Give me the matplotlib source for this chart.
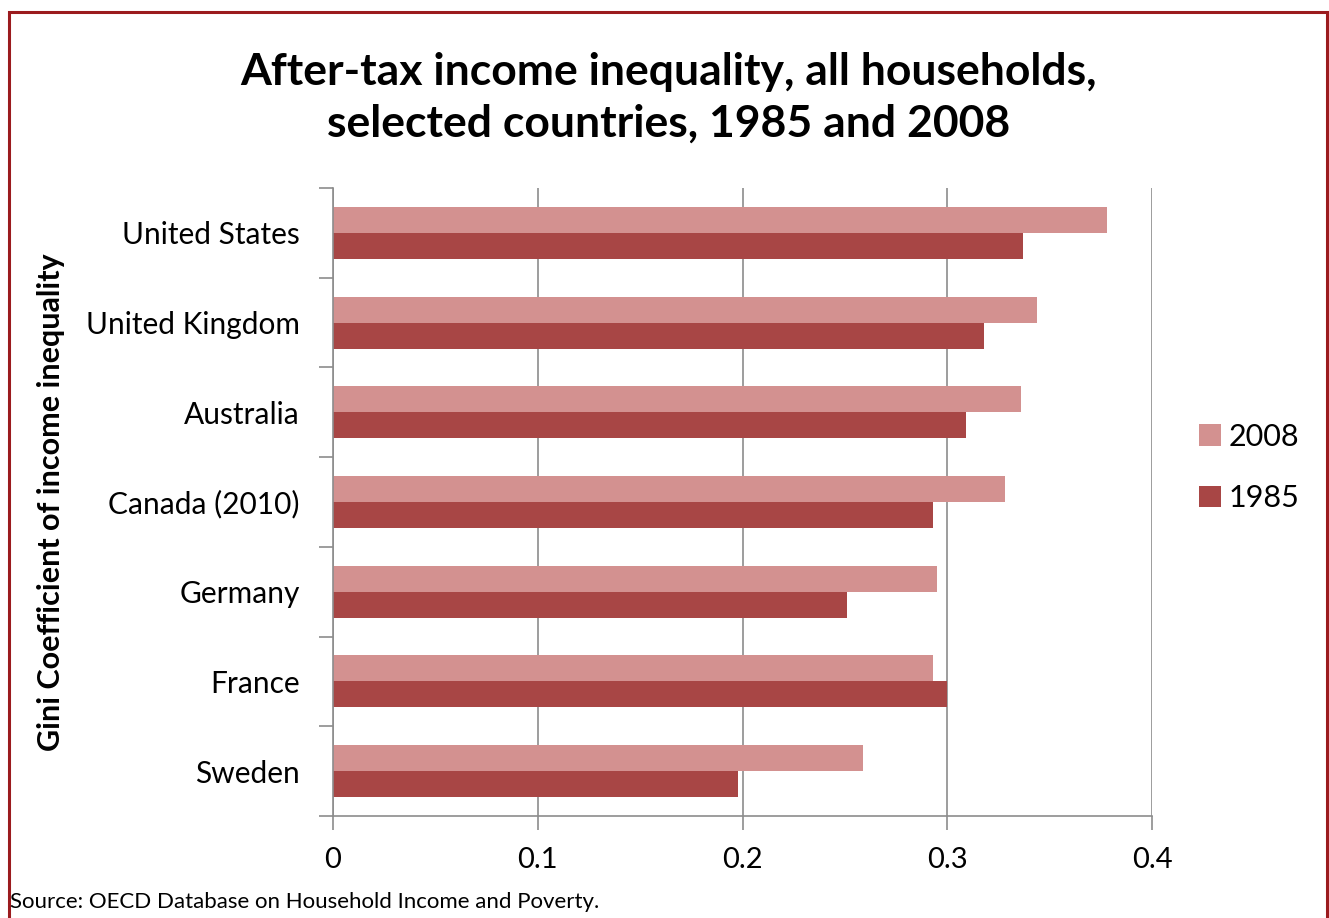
#!/usr/bin/env python3
"""After-tax income inequality, Gini 1985 vs 2008."""

import matplotlib

matplotlib.use("Agg")
import matplotlib.pyplot as plt
import numpy as np
from matplotlib.patches import Rectangle

countries = ["United States", "United Kingdom", "Australia", "Canada (2010)",
             "Germany", "France", "Sweden"]
gini_2008 = [0.378, 0.344, 0.336, 0.328, 0.295, 0.293, 0.259]
gini_1985 = [0.337, 0.318, 0.309, 0.293, 0.251, 0.300, 0.198]
xticks = [0, 0.1, 0.2, 0.3, 0.4]

C_2008 = "#d39190"
C_1985 = "#a84645"
FONT = ["Lato", "DejaVu Sans"]

plt.rcParams["font.family"] = FONT

fig = plt.figure(figsize=(13.29, 9.18), dpi=100)
ax = fig.add_axes([333 / 1329, 1 - 816 / 918, (1152 - 333) / 1329, (816 - 188) / 918])

n = len(countries)
y = np.arange(n)[::-1]
h = 0.29
ax.barh(y + h / 2, gini_2008, height=h, color=C_2008, label="2008")
ax.barh(y - h / 2, gini_1985, height=h, color=C_1985, label="1985")

ax.set_xlim(0, 0.4)
ax.set_ylim(-0.5, n - 0.5)
ax.set_xticks(xticks)
ax.set_xticklabels(["0", "0.1", "0.2", "0.3", "0.4"], fontsize=21)
ax.set_yticks(y)
ax.set_yticklabels(countries, fontsize=21.5)
ax.set_yticks(np.arange(n + 1) - 0.5, minor=True)
ax.tick_params(axis="y", which="major", length=0, pad=24)
ax.tick_params(axis="y", which="minor", length=10, color="#8c8c8c", width=1.2)
ax.tick_params(axis="x", length=10, color="#8c8c8c", width=1.2, pad=12)
ax.grid(axis="x", color="#8c8c8c", lw=1.2)
ax.set_axisbelow(True)
for side in ("top", "right"):
    ax.spines[side].set_visible(False)
for side in ("left", "bottom"):
    ax.spines[side].set_color("#8c8c8c")
    ax.spines[side].set_linewidth(1.2)

ax.set_ylabel("Gini Coefficient of income inequality", fontsize=22, fontweight="bold")
ax.yaxis.set_label_coords(-0.327, 0.5)

leg = ax.legend(loc="center left", bbox_to_anchor=(1.024, 0.555), frameon=False,
                fontsize=22, handlelength=0.7, handleheight=0.7, handletextpad=0.25,
                labelspacing=1.1)

fig.text(0.503, 0.893, "After-tax income inequality, all households,\nselected countries, 1985 and 2008",
         ha="center", va="center", fontsize=32, fontweight="bold", linespacing=1.36)
fig.text(10 / 1329, 1 - 902 / 918, "Source: OECD Database on Household Income and Poverty.",
         ha="left", va="center", fontsize=16)

fig.patches.append(Rectangle((9 / 1329, -0.05), (1327 - 9) / 1329, 1 - 12 / 918 + 0.05,
                             transform=fig.transFigure, fill=False,
                             edgecolor="#9b1b1e", lw=2.2))

fig.savefig("out.png", dpi=100)
